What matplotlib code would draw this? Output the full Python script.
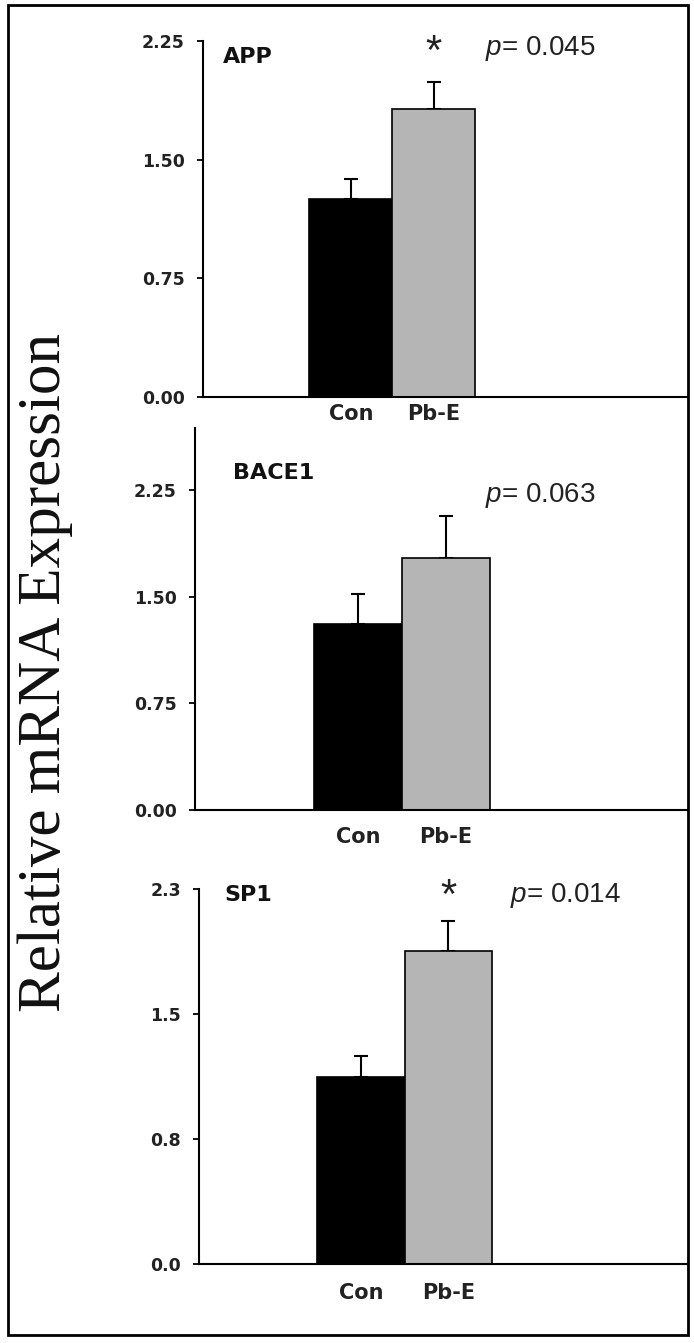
import matplotlib
matplotlib.use("Agg")
import matplotlib.pyplot as plt
from matplotlib.patches import Rectangle
import matplotlib.transforms as mtransforms

plt.rcParams["mathtext.fontset"] = "custom"
plt.rcParams["mathtext.it"] = "Liberation Sans:italic"
plt.rcParams["mathtext.rm"] = "Liberation Sans"

# data
groups = ["Con", "Pb-E"]
genes = ["APP", "BACE1", "SP1"]
app_mean = [1.25, 1.82]
app_err = [0.13, 0.17]
bace1_mean = [1.31, 1.77]
bace1_err = [0.21, 0.30]
sp1_mean = [1.12, 1.88]
sp1_err = [0.13, 0.18]
p_values = ["0.045", "0.063", "0.014"]
significant = [True, False, True]
yticks = [0, 0.75, 1.5, 2.25]
ytick_labels = [["0.00", "0.75", "1.50", "2.25"],
                ["0.00", "0.75", "1.50", "2.25"],
                ["0.0", "0.8", "1.5", "2.3"]]

W, H = 694, 1343
fig = plt.figure(figsize=(W / 100, H / 100), dpi=100)

# panel layout in pixels: left, right, top, bottom, ymax, xlim, label positions
panels = [
    dict(box=(203, 688, 41, 397), ymax=2.25, xlim=(-1.78, 4.06), xpad=5,
         name=(0.041, 0.955), p=(0.581, 0.98), star=0.965),
    dict(box=(195, 688, 428, 810), ymax=2.686, xlim=(-1.85, 3.75), xpad=12,
         name=(0.077, 0.882), p=(0.588, 0.822), star=None),
    dict(box=(199, 688, 889, 1264), ymax=2.25, xlim=(-1.85, 3.74), xpad=14,
         name=(0.051, 0.984), p=(0.636, 0.982), star=0.98),
]
means = [app_mean, bace1_mean, sp1_mean]
errs = [app_err, bace1_err, sp1_err]

for i, cfg in enumerate(panels):
    l, r, t, b = cfg["box"]
    ax = fig.add_axes([l / W, 1 - b / H, (r - l) / W, (b - t) / H])
    x = range(len(groups))
    ax.bar(x, means[i], width=1.0, color=["black", "#b5b5b5"],
           edgecolor="black", linewidth=1.2, zorder=2)
    ax.errorbar(x, means[i], yerr=[[0, 0], errs[i]], fmt="none",
                ecolor="black", elinewidth=1.5, capsize=5, capthick=1.5, zorder=1)
    ax.set_xlim(*cfg["xlim"])
    ax.set_ylim(0, cfg["ymax"])
    ax.set_yticks(yticks)
    ax.set_yticklabels(ytick_labels[i], fontsize=12.5, fontweight="bold",
                       family="DejaVu Sans", color="#222222")
    ax.set_xticks(list(x))
    ax.set_xticklabels(groups, fontsize=15, fontweight="bold",
                       family="DejaVu Sans", color="#222222")
    ax.tick_params(axis="x", length=0, pad=cfg["xpad"])
    ax.tick_params(axis="y", length=4, width=1.3, pad=9, direction="out")
    for s in ["top", "right"]:
        ax.spines[s].set_visible(False)
    ax.spines["left"].set_linewidth(1.5)
    ax.spines["bottom"].set_linewidth(1.5)
    ax.patch.set_alpha(0)

    ax.text(*cfg["name"], genes[i], transform=ax.transAxes, fontsize=16,
            fontweight="bold", family="DejaVu Sans", ha="left", va="center",
            color="#111111")
    ax.text(*cfg["p"], r"$\mathit{p}$= " + p_values[i], transform=ax.transAxes,
            fontsize=20, family="Liberation Sans", ha="left", va="center",
            color="#222222")
    if significant[i]:
        trans = mtransforms.blended_transform_factory(ax.transData, ax.transAxes)
        ax.text(1, cfg["star"], "*", transform=trans, fontsize=30,
                family="Liberation Sans", ha="center", va="center",
                color="#222222")

fig.text(45 / W, 1 - 672 / H, "Relative mRNA Expression", rotation=90,
         fontsize=44, family="Liberation Serif", ha="center", va="center",
         color="#111111")

fig.add_artist(Rectangle((8 / W, 1 - 1335 / H), (688 - 8) / W, (1335 - 5) / H,
                         transform=fig.transFigure, fill=False,
                         edgecolor="black", linewidth=2))

fig.savefig("out.png", dpi=100)
